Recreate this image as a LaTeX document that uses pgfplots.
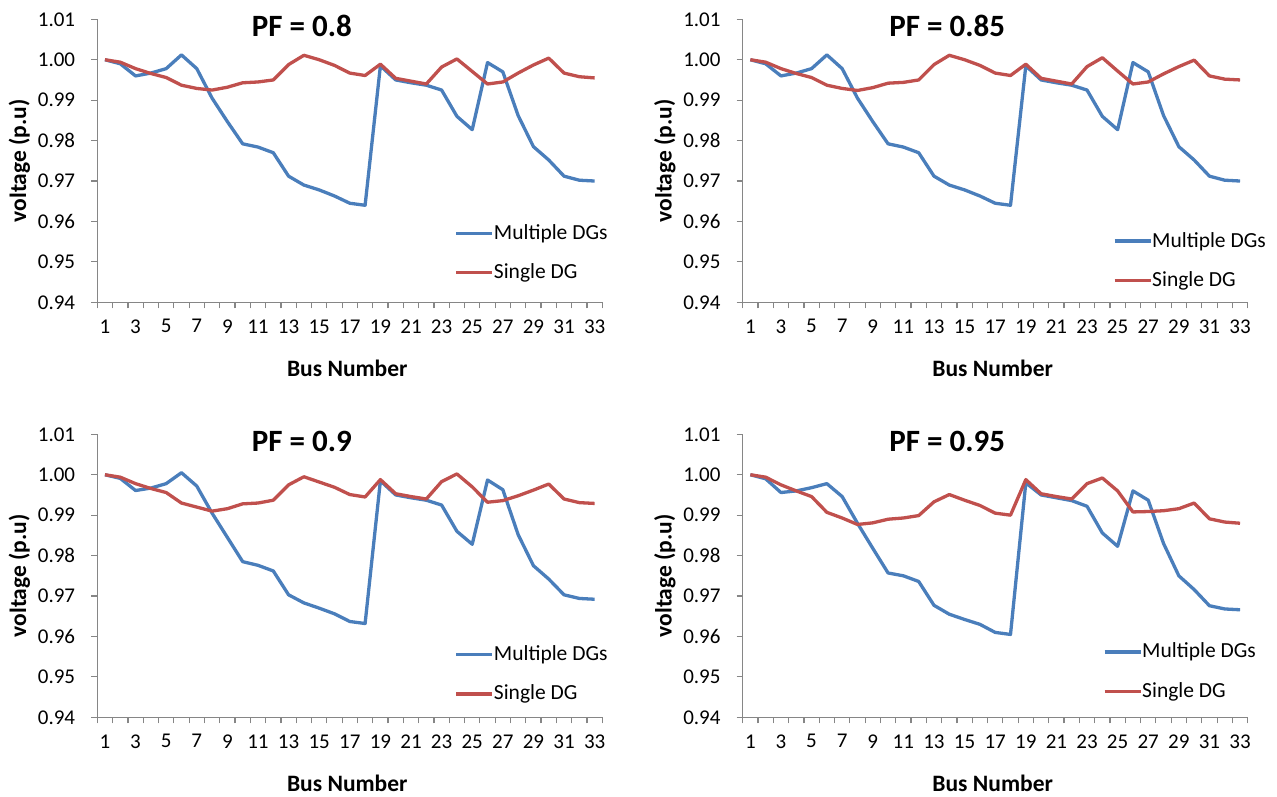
\documentclass[border=0pt]{standalone}
\usepackage{fontspec}
\setmainfont{Carlito}
\usepackage{pgfplots}
\usepackage{pgfplotstable}
\pgfplotsset{compat=1.18}
\definecolor{xblue}{RGB}{74,126,187}
\definecolor{xred}{RGB}{192,80,77}
\definecolor{axgray}{RGB}{134,134,134}

\pgfplotstableread{
bus multi single
1 1.0000 1.0000
2 0.9990 0.9994
3 0.9960 0.9978
4 0.9967 0.9966
5 0.9978 0.9956
6 1.0012 0.9937
7 0.9978 0.9929
8 0.9905 0.9925
9 0.9847 0.9932
10 0.9792 0.9943
11 0.9784 0.9945
12 0.9770 0.9950
13 0.9712 0.9988
14 0.9690 1.0011
15 0.9678 1.0000
16 0.9663 0.9986
17 0.9645 0.9967
18 0.9640 0.9961
19 0.9985 0.9989
20 0.9950 0.9954
21 0.9943 0.9947
22 0.9937 0.9940
23 0.9925 0.9982
24 0.9860 1.0002
25 0.9827 0.9971
26 0.9993 0.9940
27 0.9970 0.9945
28 0.9862 0.9967
29 0.9785 0.9987
30 0.9752 1.0004
31 0.9712 0.9967
32 0.9702 0.9958
33 0.9700 0.9955
}\tableA

\pgfplotstableread{
bus multi single
1 1.0000 1.0000
2 0.9990 0.9994
3 0.9960 0.9978
4 0.9967 0.9966
5 0.9978 0.9956
6 1.0012 0.9937
7 0.9978 0.9929
8 0.9905 0.9924
9 0.9847 0.9931
10 0.9792 0.9942
11 0.9784 0.9944
12 0.9770 0.9950
13 0.9712 0.9988
14 0.9690 1.0011
15 0.9678 1.0000
16 0.9663 0.9986
17 0.9645 0.9967
18 0.9640 0.9961
19 0.9985 0.9989
20 0.9950 0.9954
21 0.9943 0.9947
22 0.9937 0.9940
23 0.9925 0.9983
24 0.9860 1.0005
25 0.9827 0.9972
26 0.9993 0.9940
27 0.9970 0.9945
28 0.9862 0.9965
29 0.9785 0.9983
30 0.9752 0.9999
31 0.9712 0.9960
32 0.9702 0.9952
33 0.9700 0.9950
}\tableB

\pgfplotstableread{
bus multi single
1 1.0000 1.0000
2 0.9991 0.9994
3 0.9961 0.9978
4 0.9967 0.9966
5 0.9978 0.9956
6 1.0005 0.9930
7 0.9972 0.9920
8 0.9905 0.9910
9 0.9845 0.9916
10 0.9785 0.9928
11 0.9776 0.9930
12 0.9762 0.9937
13 0.9703 0.9975
14 0.9683 0.9995
15 0.9670 0.9982
16 0.9656 0.9969
17 0.9637 0.9951
18 0.9632 0.9945
19 0.9985 0.9988
20 0.9950 0.9953
21 0.9943 0.9946
22 0.9937 0.9940
23 0.9925 0.9983
24 0.9860 1.0002
25 0.9828 0.9970
26 0.9987 0.9932
27 0.9963 0.9936
28 0.9852 0.9948
29 0.9775 0.9962
30 0.9742 0.9977
31 0.9703 0.9940
32 0.9694 0.9931
33 0.9692 0.9929
}\tableC

\pgfplotstableread{
bus multi single
1 1.0000 1.0000
2 0.9990 0.9994
3 0.9956 0.9975
4 0.9960 0.9960
5 0.9968 0.9946
6 0.9978 0.9907
7 0.9946 0.9893
8 0.9880 0.9877
9 0.9818 0.9881
10 0.9757 0.9890
11 0.9750 0.9893
12 0.9736 0.9899
13 0.9677 0.9933
14 0.9655 0.9951
15 0.9642 0.9937
16 0.9630 0.9924
17 0.9610 0.9905
18 0.9605 0.9900
19 0.9980 0.9988
20 0.9950 0.9953
21 0.9943 0.9946
22 0.9936 0.9940
23 0.9922 0.9978
24 0.9856 0.9992
25 0.9823 0.9960
26 0.9960 0.9908
27 0.9937 0.9909
28 0.9830 0.9911
29 0.9750 0.9916
30 0.9716 0.9930
31 0.9676 0.9891
32 0.9668 0.9883
33 0.9666 0.9880
}\tableD

\pgfplotsset{
  panel/.style={
    scale only axis,
    width=505pt, height=283pt,
    xmin=0.5, xmax=33.5, ymin=0.94, ymax=1.01,
    axis lines*=left,
    axis line style={axgray, line width=1.2pt},
    tick style={axgray, line width=1.2pt},
    tick align=outside,
    major tick length=6pt,
    xtick={0.5,1.5,...,33.5},
    xticklabels={},
    extra x ticks={1,3,...,33},
    extra x tick labels={1,3,5,7,9,11,13,15,17,19,21,23,25,27,29,31,33},
    extra x tick style={major tick length=0pt},
    ytick={0.94,0.95,0.96,0.97,0.98,0.99,1.00,1.01},
    y tick label style={/pgf/number format/fixed, /pgf/number format/fixed zerofill, /pgf/number format/precision=2},
    /pgf/number format/assume math mode=true,
    tick label style={font=\fontsize{21}{25}\selectfont, text=black},
    yticklabel style={inner sep=0pt, xshift=-16pt},
    xticklabel style={inner sep=0pt, yshift=-17pt},
    xlabel={Bus Number},
    ylabel={voltage (p.u)},
    every axis x label/.style={at={(axis description cs:0.495,-0.2328)}, anchor=center, font=\bfseries\fontsize{23.5}{28}\selectfont},
    every axis y label/.style={at={(axis description cs:-0.1543,0.5)}, anchor=center, rotate=90, font=\bfseries\fontsize{23.5}{28}\selectfont},
    title style={at={(axis description cs:0.405,0.954)}, anchor=center, font=\bfseries\fontsize{31}{36}\selectfont},
    legend image code/.code={\draw[#1] (0pt,0pt) -- (36pt,0pt);},
    legend cell align=left,
    every axis plot/.append style={line width=3.3pt, line join=round},
    clip=false,
  },
  leg/.style 2 args={
    legend style={at={(axis description cs:#1,#2)}, anchor=west, draw=none, fill=none,
      inner sep=0pt, row sep=19.5pt,
      font=\fontsize{21.5}{26}\selectfont,
      nodes={inner sep=0pt, text height=16pt, text depth=4pt},
      /tikz/every even column/.append style={column sep=0pt}},
  },
}

\begin{document}
\begin{tikzpicture}
\useasboundingbox (0pt,0pt) rectangle (1277pt,-796pt);
% top left
\begin{axis}[panel, at={(97.3pt,-302.3pt)}, anchor=south west, title={PF = 0.8}, leg={0.7072}{0.1744}]
\addplot[xblue] table[x=bus,y=multi]{\tableA};
\addplot[xred] table[x=bus,y=single]{\tableA};
\legend{Multiple DGs, Single DG}
\end{axis}
% top right
\begin{axis}[panel, at={(742.7pt,-302.3pt)}, anchor=south west, title={PF = 0.85}, leg={0.7327}{0.1467}]
\addplot[xblue] table[x=bus,y=multi]{\tableB};
\addplot[xred] table[x=bus,y=single]{\tableB};
\legend{Multiple DGs, Single DG}
\end{axis}
% bottom left
\begin{axis}[panel, at={(97.3pt,-717.3pt)}, anchor=south west, title={PF = 0.9}, leg={0.7072}{0.1525}]
\addplot[xblue] table[x=bus,y=multi]{\tableC};
\addplot[xred] table[x=bus,y=single]{\tableC};
\legend{Multiple DGs, Single DG}
\end{axis}
% bottom right
\begin{axis}[panel, at={(742.7pt,-717.3pt)}, anchor=south west, title={PF = 0.95}, leg={0.7129}{0.1613}]
\addplot[xblue] table[x=bus,y=multi]{\tableD};
\addplot[xred] table[x=bus,y=single]{\tableD};
\legend{Multiple DGs, Single DG}
\end{axis}
\end{tikzpicture}
\end{document}
